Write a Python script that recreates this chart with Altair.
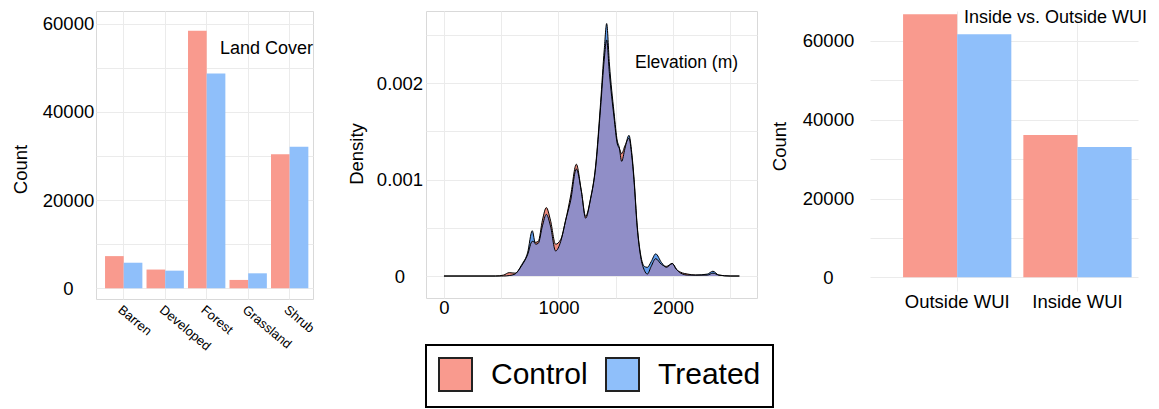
import altair as alt
import pandas as pd

FONT = "Liberation Sans"

groups = ["Control", "Treated"]
bar_colors = ["#F99A8E", "#8FBFFA"]

# Panel 1: land cover counts
cover_types = ["Barren", "Developed", "Forest", "Grassland", "Shrub"]
cover_control = [7300, 4250, 58400, 1900, 30400]
cover_treated = [5800, 4000, 48700, 3400, 32100]

# Panel 3: inside vs outside WUI counts
wui_zones = ["Outside WUI", "Inside WUI"]
wui_control = [66750, 36100]
wui_treated = [61700, 33100]

# Panel 2: elevation density
elev = [0, 450, 520, 570, 620, 680, 730, 771, 800, 824, 860, 894, 930, 975, 1020,
        1063, 1106, 1156, 1200, 1237, 1280, 1325, 1368, 1400, 1421, 1445, 1485, 1514,
        1530, 1552, 1580, 1616, 1640, 1659, 1688, 1718, 1750, 1776, 1810, 1849, 1900,
        1942, 1994, 2030, 2067, 2130, 2198, 2300, 2349, 2400, 2500, 2580]
dens_control = [0, 0, 0.00001, 0.000035, 0.00003, 0.00011, 0.00022, 0.00036, 0.00035,
                0.00036, 0.00058, 0.00071, 0.00058, 0.00033, 0.00038, 0.00058, 0.00083,
                0.00116, 0.00088, 0.00062, 0.0008, 0.00113, 0.00175, 0.00225, 0.00245,
                0.0021, 0.00165, 0.00137, 0.00133, 0.00127, 0.00135, 0.00143, 0.00125,
                0.001, 0.0005, 0.0002, 0.00006, 0.00002, 0.0001, 0.00018, 0.00012,
                0.0001, 0.00013, 0.00007, 0.00004, 0.00002, 0.00001, 0.00001, 0.00003,
                0.00001, 0, 0]
dens_treated = [0, 0, 0, 0.000005, 0.00002, 0.00012, 0.00024, 0.00047, 0.00033,
                0.00034, 0.00052, 0.00064, 0.00052, 0.00026, 0.00036, 0.00058, 0.00078,
                0.00111, 0.00088, 0.0006, 0.0008, 0.00115, 0.0018, 0.00235, 0.00262,
                0.0022, 0.0017, 0.0014, 0.00134, 0.00119, 0.00132, 0.00146, 0.00128,
                0.00103, 0.00052, 0.00022, 0.0001, 0.00009, 0.00015, 0.00023, 0.00014,
                0.00009, 0.00013, 0.00007, 0.00003, 0.00001, 0.00001, 0.00002, 0.00005,
                0.00001, 0, 0]

RED_D = "#EE8A7C"
BLUE_D = "#5F9BEB"
PURPLE = "#908EC7"
GRID = "#EBEBEB"
BORDER = "#D9D9D9"

df_cover = pd.DataFrame({
    "cover": cover_types * 2,
    "group": ["Control"] * len(cover_types) + ["Treated"] * len(cover_types),
    "count": cover_control + cover_treated,
})
df_wui = pd.DataFrame({
    "zone": wui_zones * 2,
    "group": ["Control"] * len(wui_zones) + ["Treated"] * len(wui_zones),
    "count": wui_control + wui_treated,
})
df_dens = pd.DataFrame({"elev": elev, "control": dens_control, "treated": dens_treated})

color_enc = alt.Color(
    "group:N",
    scale=alt.Scale(domain=groups, range=bar_colors),
    legend=alt.Legend(
        title=None, orient="none", legendX=330, legendY=334, direction="horizontal",
        columns=2, symbolType="square", symbolSize=1089, symbolStrokeColor="#222222",
        symbolStrokeWidth=2, labelFont=FONT, labelFontSize=30, labelColor="black",
        labelOffset=18, columnPadding=14, padding=12, strokeColor="black",
    ),
)

def note(text, x, y, size):
    return alt.Chart(pd.DataFrame({"t": [text]})).mark_text(
        align="left", baseline="alphabetic", font=FONT, fontSize=size, color="black"
    ).encode(text="t:N", x=alt.value(x), y=alt.value(y))

# ---------- Panel 1 ----------
y1 = alt.Y(
    "count:Q", title="Count",
    scale=alt.Scale(domain=[-2426, 62880], nice=False, zero=False),
    axis=alt.Axis(values=list(range(0, 70000, 10000)),
                  labelExpr="datum.value % 20000 == 0 ? format(datum.value, 'd') : ''",
                  labelAlign="center", labelPadding=28,
                  titleX=-70, titleY=158, titleBaseline="alphabetic", titleAlign="center"),
)
bars1 = alt.Chart(df_cover).mark_bar().encode(
    x=alt.X("cover:N", sort=cover_types, title=None,
            scale=alt.Scale(paddingInner=0.1, paddingOuter=0.165, align=0.66),
            axis=alt.Axis(labelAngle=40, labelAlign="left", labelBaseline="top",
                          labelFontSize=13, labelPadding=4, bandPosition=0.5, grid=True)),
    xOffset=alt.XOffset("group:N", sort=groups, scale=alt.Scale(paddingInner=0, paddingOuter=0)),
    y=y1,
    color=color_enc,
)
p1 = alt.layer(bars1, note("Land Cover", 124, 43, 18)).properties(
    width=217, height=288, view=alt.ViewBackground(stroke=BORDER)
)

# ---------- Panel 2 ----------
xs2 = alt.Scale(domain=[-157, 2734], nice=False, zero=False)
ys2 = alt.Scale(domain=[-0.000228, 0.00275], nice=False, zero=False)
ax2x = alt.Axis(values=[0, 500, 1000, 1500, 2000, 2500],
                labelExpr="datum.value % 1000 == 0 ? format(datum.value, 'd') : ''",
                labelPadding=0)
ax2y = alt.Axis(values=[0, 0.0005, 0.001, 0.0015, 0.002, 0.0025],
                labelExpr="indexof([0, 0.001, 0.002], datum.value) >= 0 ? (datum.value == 0 ? '0' : format(datum.value, '.3f')) : ''",
                labelAlign="center", labelPadding=26.5,
                titleX=-64, titleY=142.5, titleBaseline="alphabetic", titleAlign="center")

def yd(field):
    return alt.Y(field + ":Q", title="Density", scale=ys2, axis=ax2y)

base2 = alt.Chart(df_dens).encode(x=alt.X("elev:Q", title=None, scale=xs2, axis=ax2x))
a_ctrl = base2.mark_area(color=RED_D, opacity=1, interpolate="monotone").encode(y=yd("control"))
a_trt = base2.mark_area(color=BLUE_D, opacity=1, interpolate="monotone").encode(y=yd("treated"))
a_both = base2.transform_calculate(both="min(datum.control, datum.treated)").mark_area(
    color=PURPLE, opacity=1, interpolate="monotone").encode(y=yd("both"))
l_ctrl = base2.mark_line(color="black", strokeWidth=1, interpolate="monotone").encode(y=yd("control"))
l_trt = base2.mark_line(color="black", strokeWidth=1, interpolate="monotone").encode(y=yd("treated"))
p2 = alt.layer(a_ctrl, a_trt, a_both, l_ctrl, l_trt, note("Elevation (m)", 209, 56.7, 17.5)).properties(
    width=331, height=287, view=alt.ViewBackground(stroke=BORDER)
)

# ---------- Panel 3 ----------
y3 = alt.Y(
    "count:Q", title="Count",
    scale=alt.Scale(domain=[-3477, 67590], nice=False, zero=False),
    axis=alt.Axis(values=list(range(0, 70000, 10000)),
                  labelExpr="datum.value % 20000 == 0 ? format(datum.value, 'd') : ''",
                  labelAlign="center", labelPadding=42,
                  titleX=-85, titleY=135, titleBaseline="alphabetic", titleAlign="center"),
)
bars3 = alt.Chart(df_wui).mark_bar().encode(
    x=alt.X("zone:N", sort=wui_zones, title=None,
            scale=alt.Scale(paddingInner=0.1, paddingOuter=0.164, align=0.838),
            axis=alt.Axis(labelAngle=0, labelPadding=1, bandPosition=0.5, grid=True)),
    xOffset=alt.XOffset("group:N", sort=groups, scale=alt.Scale(paddingInner=0, paddingOuter=0)),
    y=y3,
    color=color_enc,
)
p3 = alt.layer(bars3, note("Inside vs. Outside WUI", 94, 11.7, 18)).properties(
    width=268, height=280, view=alt.ViewBackground(strokeOpacity=0)
)

chart = alt.hconcat(p1, p2, p3, spacing=113, bounds="flush").resolve_scale(
    xOffset="independent"
).properties(
    padding={"left": 2, "top": 0, "right": 0, "bottom": 0}
).configure_axis(
    labelFont=FONT, labelFontSize=18.5, labelColor="black",
    titleFont=FONT, titleFontSize=18.5, titleFontWeight="normal", titleColor="black",
    domain=False, ticks=False, gridColor=GRID, gridWidth=1,
).configure_legend(strokeWidth=2)

chart.save("out.html", embed_options={"renderer": "svg", "actions": False})
